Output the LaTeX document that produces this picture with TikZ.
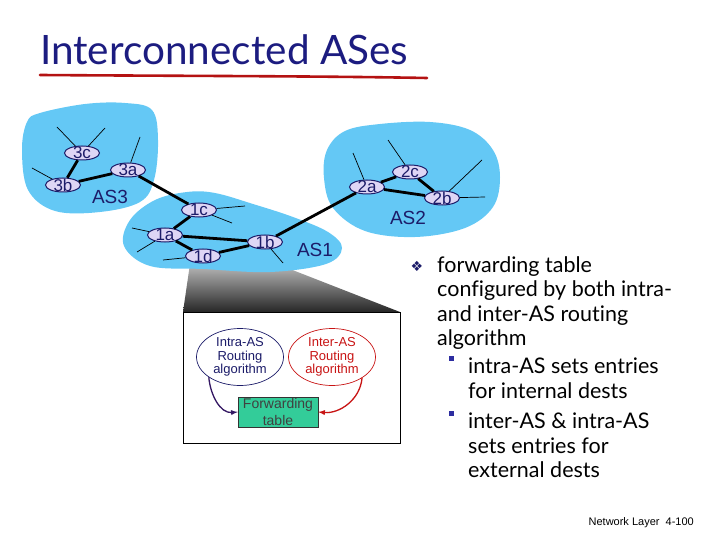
\documentclass[tikz,border=0pt]{standalone}
\usepackage{fontspec}
\setmainfont{Lato}[Ligatures=NoCommon]
\newfontfamily\arialfont{Liberation Sans}
\newfontfamily\symfont{DejaVu Sans}
\usetikzlibrary{positioning,shapes,arrows}
\definecolor{asblue}{RGB}{100,200,245}
\definecolor{routerfill}{RGB}{222,214,245}
\definecolor{navy}{RGB}{28,28,105}
\definecolor{titleblue}{RGB}{28,28,128}
\definecolor{fwdgreen}{RGB}{51,204,153}
\definecolor{algored}{RGB}{200,20,20}
\definecolor{squareblue}{RGB}{45,45,160}

\begin{document}
\begin{tikzpicture}[
		x=1pt,y=-1pt,
		router/.style={draw=navy,fill=routerfill,ellipse,line width=1pt,minimum width=35pt,minimum height=14pt,inner sep=-1.5pt,text=navy,font=\arialfont\fontsize{17}{17}\selectfont},
		link/.style={line width=2.8pt},
		stub/.style={line width=0.7pt},
		aslabel/.style={text=navy,font=\arialfont\fontsize{19}{19}\selectfont},
		algo/.style={draw,ellipse,line width=0.7pt,minimum width=87pt,minimum height=57pt,inner sep=0pt,align=center,font=\arialfont\fontsize{13}{13.5}\selectfont},
		fwdbox/.style={draw=black!80,fill=fwdgreen,minimum width=80pt,minimum height=30pt,inner sep=1pt,align=center,text=black!75,font=\arialfont\fontsize{14}{17}\selectfont},
		bodyline/.style={anchor=base west,inner sep=0pt,font=\fontsize{21.5}{24}\selectfont},
		subbullet/.style={fill=squareblue,minimum size=5pt,inner sep=0pt}
	]
	\useasboundingbox (0,0) rectangle (720,540);
	\node[anchor=base west,inner sep=0pt,text=titleblue,font=\fontsize{40.5}{40}\selectfont] (title) at (40,65) {Interconnected ASes};
	\draw[line width=2.6pt,line cap=round,color=algored!90!black] (40,75) .. controls (180,76) and (320,76) .. (427,78);

	\shade[top color=gray!20,bottom color=black!85] (192,250) -- (272,262) -- (400,312) -- (183,312) -- cycle;

	\fill[asblue] plot[smooth cycle,tension=0.6] coordinates {(40,113) (85,104) (125,103) (152,110) (158,140) (154,180) (140,202) (100,212) (55,211) (28,190) (22,150) (27,122)};
	\fill[asblue] plot[smooth cycle,tension=0.6] coordinates {(130,220) (155,200) (187,192) (215,193) (253,204) (293,217) (328,232) (342,248) (326,264) (270,272) (203,269) (150,266) (124,246)};
	\fill[asblue] plot[smooth cycle,tension=0.6] coordinates {(327,150) (345,131) (380,124) (430,122) (470,130) (493,150) (500,177) (493,207) (465,228) (415,237) (365,231) (333,208) (324,178)};

	\node[aslabel] (as3) at (110,197) {AS3};
	\node[aslabel] (as1) at (315,250) {AS1};
	\node[aslabel] (as2) at (408,218) {AS2};

	\coordinate (s3c1) at (57,127);
	\coordinate (s3c2) at (105,128);
	\coordinate (s3b) at (32,168);
	\coordinate (s3a) at (140,137);
	\coordinate (s1c1) at (245,206);
	\coordinate (s1c2) at (232,223);
	\coordinate (s1a1) at (132,228);
	\coordinate (s1a2) at (137,252);
	\coordinate (s1d) at (163,260);
	\coordinate (s1b) at (283,263);
	\coordinate (s2a) at (353,153);
	\coordinate (s2c) at (388,140);
	\coordinate (s2b1) at (482,160);
	\coordinate (s2b2) at (485,197);

	\node[router] (r3c) at (82,153) {3c};
	\node[router] (r3b) at (63,185) {3b};
	\node[router] (r3a) at (128,170) {3a};
	\node[router] (r1c) at (199,210) {1c};
	\node[router] (r1a) at (165,235) {1a};
	\node[router] (r1d) at (203,256) {1d};
	\node[router] (r1b) at (265,242) {1b};
	\node[router] (r2a) at (367,187) {2a};
	\node[router] (r2c) at (410,172) {2c};
	\node[router] (r2b) at (442,198) {2b};

	\path[stub] (r3c) edge (s3c1) (r3c) edge (s3c2) (r3b) edge (s3b) (r3a) edge (s3a)
		(r1c) edge (s1c1) (r1c) edge (s1c2) (r1a) edge (s1a1) (r1a) edge (s1a2)
		(r1d) edge (s1d) (r1b) edge (s1b) (r2a) edge (s2a) (r2c) edge (s2c)
		(r2b) edge (s2b1) (r2b) edge (s2b2);
	\path[link] (r3c) edge (r3b) (r3b) edge (r3a) (r3a) edge (r1c)
		(r1c) edge (r1a) (r1a) edge (r1d) (r1a) edge (r1b) (r1d) edge (r1b)
		(r1b) edge (r2a) (r2a) edge (r2c) (r2a) edge (r2b) (r2c) edge (r2b);

	\draw[fill=white,line width=0.8pt] (183,312) rectangle (400,443);
	\node[algo,draw=navy,text=navy] (intra) at (240,357) {Intra-AS\\Routing\\algorithm};
	\node[algo,draw=algored,text=algored] (inter) at (332,357) {Inter-AS\\Routing\\algorithm};
	\node[fwdbox] (fwd) at (278,412) {Forwarding\\table};
	\draw[-latex,line width=1.3pt,color=navy!85!purple] (intra.213) to[out=-85,in=185] (fwd.west);
	\draw[-latex,line width=1.3pt,color=algored] (inter.-35) to[out=-95,in=-5] (fwd.east);

	\node[text=navy,inner sep=0pt,font=\symfont\fontsize{14}{14}\selectfont] (bullet) at (417,266) {❖};
	\node[bodyline] (l1) at (437,272) {forwarding table};
	\node[bodyline] (l2) at (437,296.5) {configured by both intra-};
	\node[bodyline] (l3) at (437,321) {and inter-AS routing};
	\node[bodyline] (l4) at (437,345) {algorithm};
	\node[subbullet] (sq1) at (451,358) {};
	\node[bodyline] (l5) at (468,373.5) {intra-AS sets entries};
	\node[bodyline] (l6) at (468,398) {for internal dests};
	\node[subbullet] (sq2) at (451,413) {};
	\node[bodyline] (l7) at (468,428.5) {inter-AS \& intra-AS};
	\node[bodyline] (l8) at (468,453) {sets entries for};
	\node[bodyline] (l9) at (468,477) {external dests};

	\node[anchor=base east,inner sep=0pt,font=\arialfont\fontsize{11}{11}\selectfont] (footer) at (694,525) {Network Layer\ \ 4-100};
\end{tikzpicture}
\end{document}
